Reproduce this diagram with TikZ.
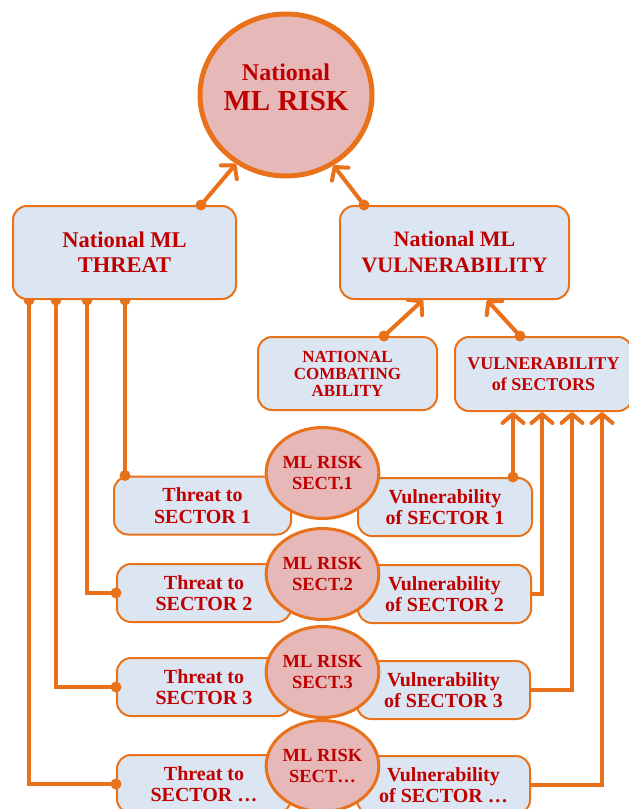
\documentclass[tikz,border=0pt]{standalone}
\usepackage{fontspec}
\setmainfont{Liberation Serif}
\usetikzlibrary{arrows.meta,backgrounds,shapes.geometric}
\definecolor{orn}{HTML}{E8711A}
\definecolor{boxfill}{HTML}{DCE6F2}
\definecolor{pinkfill}{HTML}{E6B9B8}
\definecolor{txt}{HTML}{C00000}
\begin{document}
\begin{tikzpicture}[x=1pt,y=-1pt,
  box/.style={draw=orn, line width=2pt, fill=boxfill, rounded corners=14pt, inner sep=0pt, align=center, text=txt},
  riskc/.style={ellipse, draw=orn, line width=3pt, fill=pinkfill, inner sep=0pt, align=center, text=txt,
     minimum width=93pt, minimum height=91pt, font=\fontsize{18.5}{21}\selectfont\bfseries},
  secbox/.style={box, minimum height=58pt, font=\fontsize{20}{21.5}\selectfont\bfseries},
  conn/.style={draw=orn, line width=4pt},
  linearrow/.style={conn, -{Straight Barb[length=9pt,width=21pt,round]}},
  dotfill/.style={fill=orn}
]
\useasboundingbox (0,0) rectangle (629,809);
\clip (0,0) rectangle (629,809);

% top circle
\node[ellipse, draw=orn, line width=5pt, fill=pinkfill, minimum width=172pt, minimum height=162pt] (risk) at (286,95) {};
\node[text=txt, font=\fontsize{24}{26}\selectfont\bfseries, inner sep=0pt] (risktop) at (286,72) {National};
\node[text=txt, font=\fontsize{29}{32}\selectfont\bfseries, inner sep=0pt] (riskbot) at (286,101) {ML RISK};

% national boxes
\node[box, minimum width=223pt, minimum height=93pt, font=\fontsize{22.5}{25}\selectfont\bfseries] (thr) at (124.5,252.5) {National ML\\THREAT};
\node[box, minimum width=229pt, minimum height=93pt, font=\fontsize{22}{26}\selectfont\bfseries] (vul) at (454.5,252.5) {National ML\\VULNERABILITY};

\node[box, minimum width=179pt, minimum height=73pt, font=\fontsize{17}{17}\selectfont\bfseries] (comb) at (347.5,373.5) {NATIONAL\\COMBATING\\ABILITY};
\node[box, minimum width=177pt, minimum height=74pt, font=\fontsize{18}{21}\selectfont\bfseries] (sec) at (543.5,374) {VULNERABILITY\\of SECTORS};

% sector rows
\node[secbox, minimum width=177pt] (thr1) at (202.5,505.5) {Threat to\\SECTOR 1};
\node[secbox, minimum width=174pt] (vul1) at (445,507) {Vulnerability\\of SECTOR 1};
\node[riskc] (c1) at (322.5,473) {ML RISK\\SECT.1};

\node[secbox, minimum width=174pt] (thr2) at (204,593) {Threat to\\SECTOR 2};
\node[secbox, minimum width=173pt] (vul2) at (444.5,594) {Vulnerability\\of SECTOR 2};
\node[riskc] (c2) at (322.5,574) {ML RISK\\SECT.2};

\node[secbox, minimum width=174pt] (thr3) at (204,687) {Threat to\\SECTOR 3};
\node[secbox, minimum width=173pt] (vul3) at (443.5,690) {Vulnerability\\of SECTOR 3};
\node[riskc] (c3) at (322.5,672) {ML RISK\\SECT.3};

\node[secbox, minimum width=174pt] (thr4) at (204,784) {Threat to\\SECTOR \dots};
\node[secbox, minimum width=173pt] (vul4) at (443.5,785) {Vulnerability\\of SECTOR \dots};
\node[riskc] (c4) at (322.5,766) {ML RISK\\SECT\dots};

% connectors to top circle
\draw[linearrow] (201,0 |- thr.north) -- (risk.234);
\fill[dotfill] (201,0 |- thr.north) circle[radius=5.5pt];
\draw[linearrow] (364,0 |- vul.north) -- (risk.304);
\fill[dotfill] (364,0 |- vul.north) circle[radius=5.5pt];
% connectors to national vulnerability
\draw[linearrow] (384,0 |- comb.north) -- (423,0 |- vul.south);
\fill[dotfill] (384,0 |- comb.north) circle[radius=5.5pt];
\draw[linearrow] (520,0 |- sec.north) -- (487,0 |- vul.south);
\fill[dotfill] (520,0 |- sec.north) circle[radius=5.5pt];

% threat distribution lines
\begin{pgfonlayer}{background}
  \foreach \xx in {29,56,87,125} \fill[dotfill] (\xx,0 |- thr.south) circle[radius=5.5pt];
\end{pgfonlayer}
\draw[conn] (125,0 |- thr.south) -- (125,0 |- thr1.north);
\fill[dotfill] (125,0 |- thr1.north) circle[radius=5.5pt];
\draw[conn] (87,0 |- thr.south) |- (thr2.west);
\fill[dotfill] (thr2.west) circle[radius=5.5pt];
\draw[conn] (56,0 |- thr.south) |- (thr3.west);
\fill[dotfill] (thr3.west) circle[radius=5.5pt];
\draw[conn] (29,0 |- thr.south) |- (thr4.west);
\fill[dotfill] (thr4.west) circle[radius=5.5pt];

% vulnerability collection lines
\draw[linearrow] (513,0 |- vul1.north) -- (513,0 |- sec.south);
\fill[dotfill] (513,0 |- vul1.north) circle[radius=5.5pt];
\draw[linearrow] (vul2.east) -| (542,0 |- sec.south);
\draw[linearrow] (vul3.east) -| (572,0 |- sec.south);
\draw[linearrow] (vul4.east) -| (602,0 |- sec.south);
\end{tikzpicture}
\end{document}
